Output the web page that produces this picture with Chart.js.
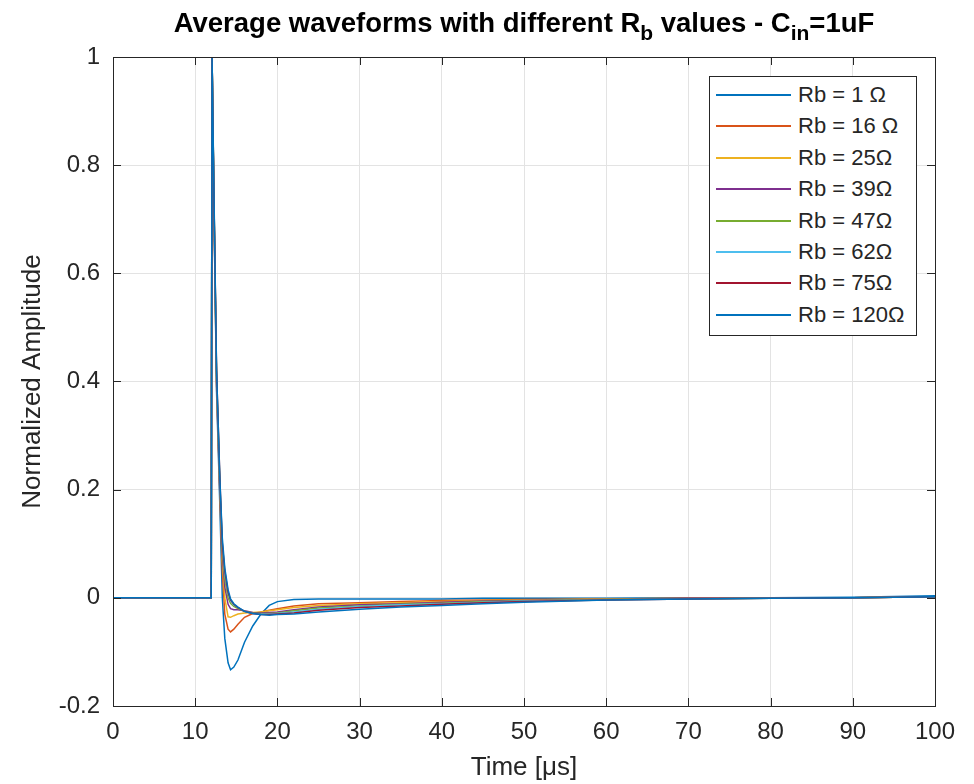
<!DOCTYPE html>
<html>
<head>
<meta charset="utf-8">
<script src="https://cdn.jsdelivr.net/npm/chart.js@4/dist/chart.umd.min.js"></script>
<style>
  body { margin: 0; background: #fff; }
  #wrap { position: relative; width: 974px; height: 784px; }
  #title {
    position: absolute; left: 113px; width: 822px; top: 7px; text-align: center; line-height: 30px;
    font: bold 27.5px "Liberation Sans", Arial, sans-serif; color: #000; white-space: nowrap;
  }
  #title sub { font-size: 21px; position: relative; top: 8px; vertical-align: baseline; line-height: 0; }
  #legend {
    position: absolute; left: 709px; top: 76px; width: 206px; height: 258px;
    border: 1px solid #262626; background: #fff; box-sizing: content-box;
  }
  .item { position: absolute; left: 0; height: 26px; font: 22px "Liberation Sans", Arial, sans-serif; color: #262626; }
  .item i { position: absolute; left: 6px; top: 12px; width: 75px; height: 2px; }
  .item span { position: absolute; left: 88px; top: 0; white-space: nowrap; line-height: 26px; }
</style>
</head>
<body>
<div id="wrap">
  <canvas id="chart" width="974" height="784"></canvas>
  <div id="title">Average waveforms with different R<sub>b</sub> values - C<sub>in</sub>=1uF</div>
  <div id="legend"></div>
</div>
<script>
// time axis in microseconds
const time = [0, 11.95, 12.05, 12.3, 12.6, 13.0, 13.3, 13.6, 14.0, 14.3, 14.7, 15.2, 16, 17, 18, 19, 20, 22, 25, 30, 35, 40, 45, 50, 60, 70, 80, 90, 100];

const rb1   = [0, 0, 1, 0.70, 0.38, 0.17, 0.00, -0.075, -0.12, -0.133, -0.128, -0.115, -0.082, -0.052, -0.030, -0.014, -0.007, -0.003, -0.002, -0.002, -0.002, -0.002, -0.001, -0.001, -0.001, 0, 0, 0.001, 0.004];
const rb16  = [0, 0, 1, 0.70, 0.39, 0.19, 0.05, -0.030, -0.058, -0.063, -0.058, -0.049, -0.036, -0.029, -0.026, -0.023, -0.020, -0.015, -0.011, -0.009, -0.007, -0.005, -0.004, -0.003, -0.002, -0.001, -0.001, 0, 0.002];
const rb25  = [0, 0, 1, 0.71, 0.40, 0.20, 0.07, 0.000, -0.035, -0.036, -0.033, -0.030, -0.028, -0.027, -0.026, -0.024, -0.022, -0.018, -0.014, -0.011, -0.009, -0.007, -0.005, -0.004, -0.002, -0.001, -0.001, 0, 0.002];
const rb39  = [0, 0, 1, 0.71, 0.40, 0.20, 0.08, 0.020, -0.012, -0.020, -0.022, -0.022, -0.024, -0.027, -0.028, -0.027, -0.026, -0.022, -0.017, -0.013, -0.011, -0.008, -0.006, -0.005, -0.003, -0.001, -0.001, 0, 0.002];
const rb47  = [0, 0, 1, 0.72, 0.41, 0.21, 0.09, 0.035, 0.000, -0.010, -0.016, -0.020, -0.025, -0.028, -0.029, -0.029, -0.028, -0.024, -0.019, -0.015, -0.012, -0.010, -0.007, -0.006, -0.003, -0.002, -0.001, 0, 0.002];
const rb62  = [0, 0, 1, 0.72, 0.41, 0.21, 0.10, 0.045, 0.008, -0.005, -0.013, -0.018, -0.025, -0.029, -0.030, -0.030, -0.029, -0.026, -0.021, -0.016, -0.013, -0.011, -0.008, -0.006, -0.004, -0.002, -0.001, 0, 0.002];
const rb75  = [0, 0, 1, 0.72, 0.42, 0.22, 0.10, 0.050, 0.010, -0.004, -0.012, -0.018, -0.025, -0.029, -0.031, -0.031, -0.030, -0.028, -0.023, -0.018, -0.015, -0.012, -0.009, -0.007, -0.004, -0.002, -0.001, 0, 0.002];
const rb120 = [0, 0, 1, 0.73, 0.42, 0.22, 0.11, 0.055, 0.015, -0.002, -0.011, -0.017, -0.025, -0.029, -0.031, -0.032, -0.031, -0.030, -0.026, -0.021, -0.017, -0.014, -0.011, -0.008, -0.004, -0.002, -0.001, 0, 0.002];

const series = [rb1, rb16, rb25, rb39, rb47, rb62, rb75, rb120];
const labels = ['Rb = 1 \u03A9', 'Rb = 16 \u03A9', 'Rb = 25\u03A9', 'Rb = 39\u03A9', 'Rb = 47\u03A9', 'Rb = 62\u03A9', 'Rb = 75\u03A9', 'Rb = 120\u03A9'];
const colors = ['#0072BD', '#D95319', '#EDB120', '#7E2F8E', '#77AC30', '#4DBEEE', '#A2142F', '#0072BD'];

const xTicks = [0, 10, 20, 30, 40, 50, 60, 70, 80, 90, 100];
const xTickLabels = ['0', '10', '20', '30', '40', '50', '60', '70', '80', '90', '100'];
const yTicks = [-0.2, 0, 0.2, 0.4, 0.6, 0.8, 1];
const yTickLabels = ['-0.2', '0', '0.2', '0.4', '0.6', '0.8', '1'];

const axisColor = '#262626';
const family = '"Liberation Sans", Arial, sans-serif';

// box around the axes and inward ticks, matlab style
const boxPlugin = {
    id: 'box',
    afterDraw(chart) {
        const { ctx, chartArea: a, scales } = chart;
        ctx.save();
        ctx.strokeStyle = axisColor;
        ctx.lineWidth = 1;
        ctx.beginPath();
        scales.x.ticks.forEach(t => {
            const px = Math.round(scales.x.getPixelForValue(t.value)) + 0.5;
            ctx.moveTo(px, a.bottom); ctx.lineTo(px, a.bottom - 8);
            ctx.moveTo(px, a.top); ctx.lineTo(px, a.top + 8);
        });
        scales.y.ticks.forEach(t => {
            const py = Math.round(scales.y.getPixelForValue(t.value)) + 0.5;
            ctx.moveTo(a.left, py); ctx.lineTo(a.left + 8, py);
            ctx.moveTo(a.right, py); ctx.lineTo(a.right - 8, py);
        });
        ctx.stroke();
        ctx.strokeRect(Math.round(a.left) + 0.5, Math.round(a.top) + 0.5, Math.round(a.right - a.left), Math.round(a.bottom - a.top));
        ctx.restore();
    }
};

const ctx = document.getElementById('chart');
new Chart(ctx, {
    type: 'line',
    data: {
        datasets: series.map((s, i) => ({
            label: labels[i],
            data: time.map((t, j) => ({ x: t, y: s[j] })),
            borderColor: colors[i],
            borderWidth: 1.5,
            pointRadius: 0,
            tension: 0,
            fill: false,
            order: series.length - 1 - i
        }))
    },
    options: {
        responsive: false,
        animation: false,
        layout: { padding: { top: 57, right: 39, left: 0, bottom: 0 } },
        plugins: { legend: { display: false }, tooltip: { enabled: false } },
        scales: {
            x: {
                type: 'linear', min: 0, max: 100,
                afterBuildTicks: s => { s.ticks = xTicks.map(v => ({ value: v })); },
                afterFit: s => { s.height = 78; },
                grid: { color: '#e3e3e3', drawTicks: false },
                border: { display: false },
                ticks: { color: axisColor, font: { family, size: 24 }, padding: 12, maxRotation: 0,
                         callback: v => xTickLabels[xTicks.indexOf(v)] },
                title: { display: true, text: 'Time [\u03BCs]', color: axisColor, font: { family, size: 26 }, padding: { top: 0, bottom: 1 } }
            },
            y: {
                type: 'linear', min: -0.2, max: 1,
                afterBuildTicks: s => { s.ticks = yTicks.map(v => ({ value: v })); },
                afterFit: s => { s.width = 113; },
                grid: { color: '#e3e3e3', drawTicks: false },
                border: { display: false },
                ticks: { color: axisColor, font: { family, size: 24 }, padding: 13,
                         callback: v => yTickLabels[yTicks.indexOf(v)] },
                title: { display: true, text: 'Normalized Amplitude', color: axisColor, font: { family, size: 26 }, padding: { top: 17, bottom: 0 } }
            }
        }
    },
    plugins: [boxPlugin]
});

// legend drawn from the same labels and colours
const leg = document.getElementById('legend');
labels.forEach((l, i) => {
    const d = document.createElement('div');
    d.className = 'item';
    d.style.top = Math.round(5 + i * 31.4) + 'px';
    d.innerHTML = '<i style="background:' + colors[i] + '"></i><span>' + l + '</span>';
    leg.appendChild(d);
});
</script>
</body>
</html>
